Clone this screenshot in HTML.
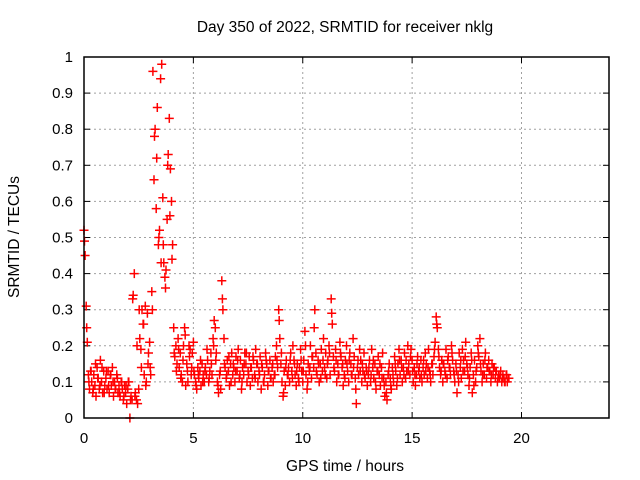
<!DOCTYPE html>
<html><head><meta charset="utf-8"><style>
html,body{margin:0;padding:0;background:#fff;}
svg{display:block;font-family:"Liberation Sans",sans-serif;}
</style></head><body>
<svg id="chart" width="640" height="480" viewBox="0 0 640 480" xmlns="http://www.w3.org/2000/svg">
<rect width="640" height="480" fill="#fff"/>
<text x="345" y="32" font-size="15.5" text-anchor="middle" fill="#000">Day 350 of 2022, SRMTID for receiver nklg</text>
<g id="grid"></g>
<g id="ticks"></g>
<g id="marks"></g>
<rect x="84" y="57" width="525" height="361" fill="none" stroke="#000" stroke-width="1.5"/>
<text x="345" y="471" font-size="15.5" text-anchor="middle">GPS time / hours</text>
<text x="19" y="237" font-size="15.5" text-anchor="middle" transform="rotate(-90 19 237)">SRMTID / TECUs</text>
</svg>
<script>
const xTicks=[0,5,10,15,20];
const yTicks=[0,0.1,0.2,0.3,0.4,0.5,0.6,0.7,0.8,0.9,1];
const yTickLabels=["0","0.1","0.2","0.3","0.4","0.5","0.6","0.7","0.8","0.9","1"];
const step1=0.05;
const values1=[
0.52,0.45,0.31,0.21,0.12,0.08,0.13,0.1,0.07,0.12,0.09,0.06,0.14,0.11,0.08,0.16,0.1,0.07,0.13,0.09,
0.11,0.08,0.13,0.07,0.12,0.09,0.14,0.06,0.1,0.08,0.12,0.07,0.09,0.06,0.1,0.08,0.05,0.09,0.07,0.04,
0.08,0.1,0.0,0.06,0.05,0.34,0.4,0.07,0.05,0.04,0.08,0.22,0.19,0.3,0.26,0.12,0.31,0.1,0.29,0.18,
0.21,0.12,0.35,0.96,0.66,0.8,0.58,0.86,0.48,0.52,0.94,0.98,0.61,0.43,0.39,0.41,0.55,0.73,0.83,0.69,
0.6,0.48,0.25,0.17,0.2,0.15,0.22,0.14,0.18,0.12,0.1,0.2,0.25,0.09,0.15,0.1,0.2,0.19,0.12,0.18,
0.21,0.12,0.1,0.08,0.14,0.11,0.13,0.09,0.15,0.12,0.1,0.14,0.12,0.16,0.1,0.13,0.18,0.12,0.22,0.27,
0.25,0.18,0.1,0.07,0.12,0.08,0.38,0.3,0.22,0.14,0.11,0.16,0.13,0.09,0.15,0.18,0.12,0.14,0.1,0.17,
0.13,0.19,0.11,0.16,0.08,0.14,0.12,0.18,0.15,0.1,0.13,0.17,0.09,0.14,0.11,0.16,0.12,0.19,0.15,0.1,
0.13,0.17,0.08,0.14,0.1,0.12,0.18,0.15,0.09,0.13,0.16,0.11,0.14,0.1,0.12,0.17,0.2,0.14,0.3,0.22,
0.15,0.1,0.06,0.13,0.09,0.16,0.12,0.14,0.1,0.18,0.13,0.2,0.16,0.12,0.09,0.15,0.11,0.14,0.19,0.13,
0.1,0.16,0.24,0.12,0.08,0.15,0.13,0.2,0.11,0.17,0.14,0.3,0.18,0.12,0.16,0.1,0.15,0.19,0.13,0.22,
0.14,0.18,0.11,0.16,0.2,0.12,0.33,0.26,0.17,0.13,0.19,0.1,0.15,0.12,0.21,0.17,0.14,0.09,0.12,0.16,
0.2,0.13,0.1,0.18,0.15,0.12,0.22,0.17,0.11,0.04,0.14,0.12,0.19,0.16,0.1,0.13,0.18,0.11,0.14,0.09,
0.12,0.16,0.1,0.19,0.14,0.11,0.15,0.08,0.13,0.17,0.12,0.09,0.14,0.18,0.11,0.06,0.1,0.05,0.12,0.15,
0.11,0.08,0.14,0.1,0.17,0.13,0.09,0.15,0.19,0.12,0.16,0.1,0.14,0.18,0.11,0.13,0.2,0.15,0.12,0.19,
0.16,0.1,0.14,0.09,0.12,0.17,0.13,0.11,0.16,0.1,0.14,0.12,0.18,0.15,0.11,0.19,0.13,0.1,0.15,0.12,
0.17,0.21,0.28,0.25,0.19,0.14,0.12,0.16,0.1,0.15,0.13,0.19,0.11,0.17,0.14,0.12,0.2,0.16,0.13,0.1,
0.15,0.07,0.12,0.18,0.14,0.11,0.19,0.16,0.13,0.21,0.15,0.12,0.09,0.14,0.18,0.07,0.12,0.16,0.1,0.14,
0.2,0.17,0.22,0.13,0.1,0.15,0.12,0.18,0.11,0.14,0.16,0.13,0.1,0.15,0.12,0.14,0.11,0.13,0.1,0.12,
0.11,0.13,0.1,0.12,0.11,0.1,0.12,0.1,0.11];
const step2=0.1;
const start2=0.025;
const values2=[
0.49,0.25,0.1,0.13,0.08,0.15,0.11,0.09,0.14,0.07,
0.13,0.09,0.12,0.1,0.08,0.11,0.07,0.1,0.06,0.09,
0.1,0.05,0.33,0.06,0.2,0.3,0.14,0.26,0.09,0.15,
0.14,0.3,0.78,0.72,0.5,0.43,0.48,0.36,0.7,0.56,
0.44,0.18,0.13,0.19,0.11,0.16,0.23,0.13,0.17,0.14,
0.13,0.09,0.12,0.16,0.1,0.13,0.19,0.11,0.15,0.2,
0.16,0.09,0.13,0.33,0.15,0.12,0.17,0.1,0.15,0.13,
0.16,0.12,0.1,0.15,0.18,0.12,0.14,0.17,0.11,0.15,
0.12,0.15,0.1,0.16,0.13,0.11,0.15,0.12,0.16,0.27,
0.18,0.07,0.14,0.12,0.16,0.11,0.15,0.13,0.1,0.16,
0.13,0.2,0.1,0.14,0.17,0.25,0.13,0.15,0.11,0.16,
0.12,0.15,0.18,0.29,0.14,0.16,0.12,0.18,0.15,0.11,
0.15,0.16,0.12,0.14,0.08,0.16,0.13,0.15,0.12,0.13,
0.14,0.12,0.16,0.1,0.13,0.15,0.11,0.09,0.07,0.13,
0.09,0.12,0.15,0.11,0.16,0.14,0.12,0.16,0.13,0.17,
0.13,0.12,0.15,0.14,0.12,0.16,0.13,0.14,0.12,0.15,
0.19,0.26,0.17,0.13,0.15,0.12,0.16,0.14,0.18,0.12,
0.13,0.1,0.16,0.13,0.17,0.14,0.11,0.16,0.09,0.13,
0.18,0.15,0.12,0.16,0.14,0.13,0.12,0.14,0.13,0.11,
0.12,0.11,0.1,0.12,0.11];

const NS='http://www.w3.org/2000/svg';
const L=84,R=609,T=57,B=418;
function xs(v){return L+(v/24)*(R-L);}
function ys(v){return B-(v/1)*(B-T);}
function mk(tag,attrs,parent){const e=document.createElementNS(NS,tag);for(const k in attrs)e.setAttribute(k,attrs[k]);parent.appendChild(e);return e;}
const grid=document.getElementById('grid'),ticks=document.getElementById('ticks'),marks=document.getElementById('marks'),svg=document.getElementById('chart');
yTicks.forEach((v,i)=>{
  const y=ys(v);
  if(i>0&&i<yTicks.length-1){const g=mk('line',{x1:L,x2:R,y1:y,y2:y,stroke:'#a0a0a0','stroke-dasharray':'2,3'},grid);
  
  }
  mk('line',{x1:L,x2:L+6,y1:y,y2:y,stroke:'#000'},ticks);
  mk('line',{x1:R-6,x2:R,y1:y,y2:y,stroke:'#000'},ticks);
  const t=mk('text',{x:73,y:y+5,'font-size':'15','text-anchor':'end'},svg);
  t.textContent=yTickLabels[i];
  
  
});
xTicks.forEach(v=>{
  const x=xs(v);
  if(v>0){const g=mk('line',{x1:x,x2:x,y1:T,y2:B,stroke:'#a0a0a0','stroke-dasharray':'2,3'},grid);
  
  }
  mk('line',{x1:x,x2:x,y1:B-6,y2:B,stroke:'#000'},ticks);
  mk('line',{x1:x,x2:x,y1:T,y2:T+6,stroke:'#000'},ticks);
  const t=mk('text',{x:x,y:443,'font-size':'15','text-anchor':'middle'},svg);
  t.textContent=String(v);
  
  
});
let d='';
function plus(t,v){const x=xs(t),y=ys(v);d+=`M${(x-4.5).toFixed(1)} ${y.toFixed(1)}h9M${x.toFixed(1)} ${(y-4.5).toFixed(1)}v9`;}
values1.forEach((v,i)=>plus(i*step1,v));
values2.forEach((v,i)=>plus(start2+i*step2,v));
const p=mk('path',{d:d,stroke:'#ff0000','stroke-width':'1.5',fill:'none'},marks);


</script>
</body></html>
